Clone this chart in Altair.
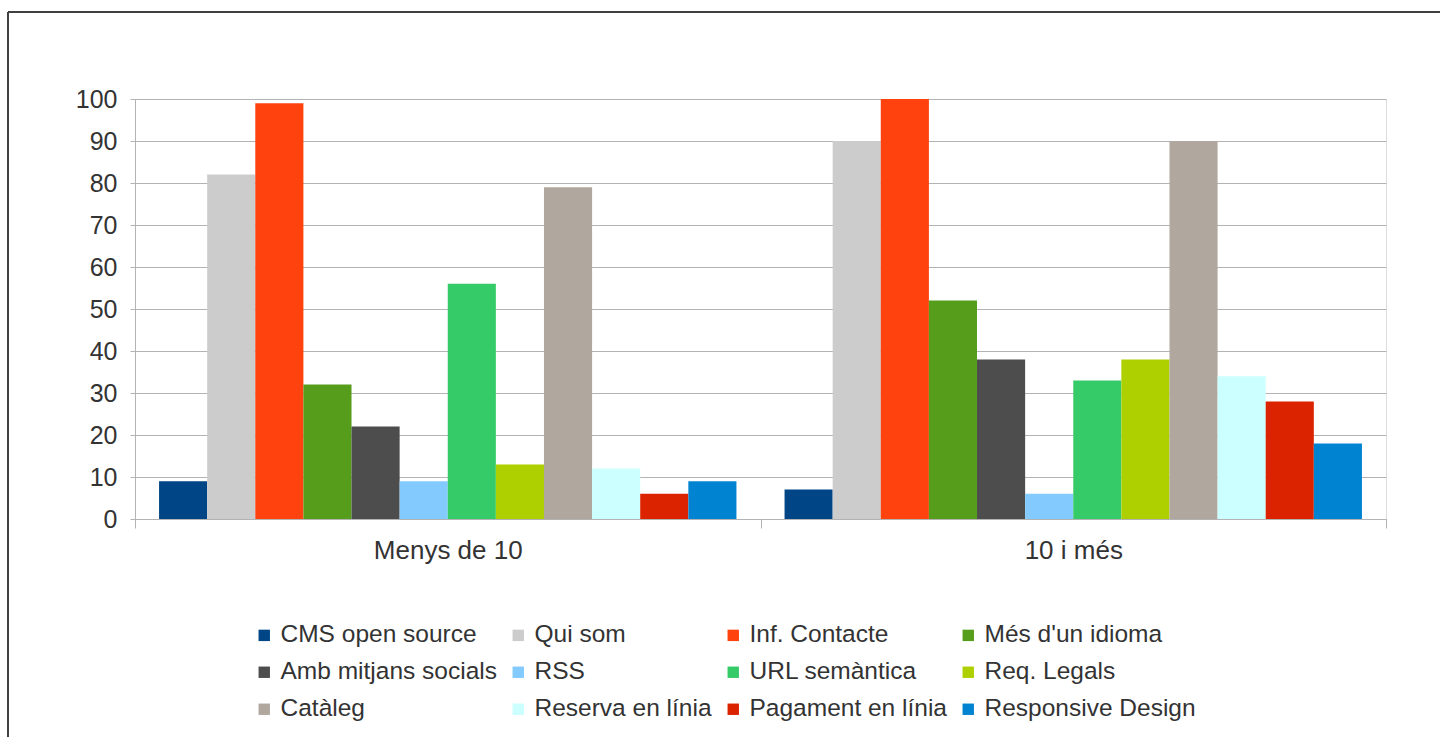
import altair as alt
import pandas as pd

groups = ["Menys de 10", "10 i més"]
series = ["CMS open source", "Qui som", "Inf. Contacte", "Més d'un idioma",
          "Amb mitjans socials", "RSS", "URL semàntica", "Req. Legals",
          "Catàleg", "Reserva en línia", "Pagament en línia", "Responsive Design"]
colors = ["#004586", "#cccccc", "#ff420e", "#579d1c", "#4d4d4d", "#83caff",
          "#36cb69", "#aed000", "#b0a79f", "#ccffff", "#dc2300", "#0084d1"]
values_menys = [9, 82, 99, 32, 22, 9, 56, 13, 79, 12, 6, 9]
values_mes = [7, 90, 100, 52, 38, 6, 33, 38, 90, 34, 28, 18]

rows = []
for g, vals in zip(groups, [values_menys, values_mes]):
    for s, v in zip(series, vals):
        rows.append({"grup": g, "serie": s, "valor": v})
df = pd.DataFrame(rows)

FONT = "Liberation Sans"
W, H = 1251, 420

bars = alt.Chart(df).mark_bar(stroke=None).encode(
    x=alt.X("grup:N", sort=groups, title=None,
            scale=alt.Scale(paddingInner=0, paddingOuter=0),
            axis=alt.Axis(labelAngle=0, tickBand="extent", tickSize=9,
                          labelPadding=9, labelFontSize=26, labelFont=FONT,
                          labelColor="#333333", domainColor="#b3b3b3",
                          tickColor="#b3b3b3", grid=False)),
    xOffset=alt.XOffset("serie:N", sort=series,
                        scale=alt.Scale(paddingInner=0, paddingOuter=0.5)),
    y=alt.Y("valor:Q", title=None,
            scale=alt.Scale(domain=[0, 100], nice=False),
            axis=alt.Axis(values=list(range(0, 101, 10)), tickSize=5,
                          labelPadding=13, labelFontSize=25, labelFont=FONT,
                          labelColor="#333333", domainColor="#b3b3b3",
                          tickColor="#b3b3b3", gridColor="#b3b3b3")),
    color=alt.Color("serie:N", sort=series,
                    scale=alt.Scale(domain=series, range=colors),
                    legend=alt.Legend(title=None, orient="none", legendX=117,
                                      legendY=524, columns=4, direction="horizontal",
                                      symbolType="square",
                                      symbolSize=130, symbolStrokeWidth=0,
                                      labelFontSize=24.5, labelFont=FONT,
                                      labelColor="#333333", labelOffset=4,
                                      columnPadding=9, rowPadding=12,
                                      labelLimit=400)),
)

frame_top = alt.Chart(df).mark_rule(color="#404040", strokeWidth=1.5).encode(
    x=alt.value(-127), x2=alt.value(1320), y=alt.value(-87))
frame_left = alt.Chart(df).mark_rule(color="#404040", strokeWidth=1.5).encode(
    x=alt.value(-127), y=alt.value(-87), y2=alt.value(660))

chart = alt.layer(frame_top, frame_left, bars).properties(
    width=W, height=H,
    autosize=alt.AutoSizeParams(type="none"),
    padding={"left": 135, "top": 99, "right": 1440 - 135 - W, "bottom": 737 - 99 - H},
).configure_view(stroke="#b3b3b3").configure(background="white")

chart.save("out.html", embed_options={"renderer": "svg", "actions": False})
